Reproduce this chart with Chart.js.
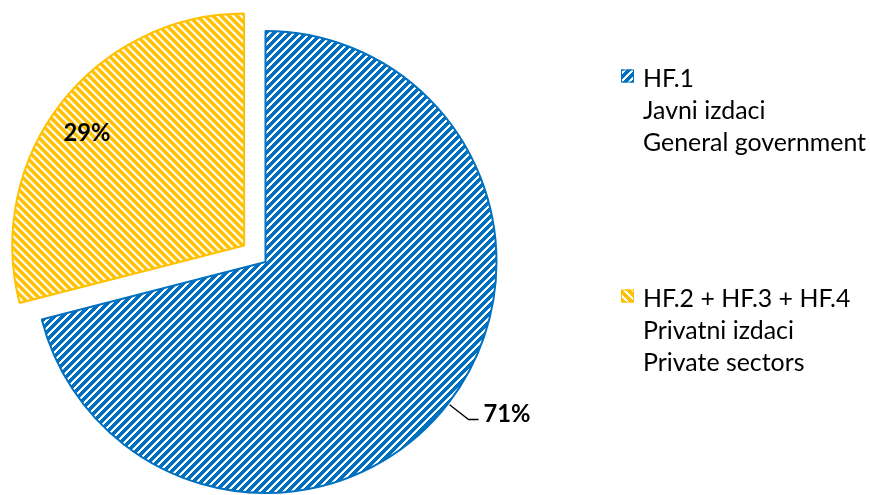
<!DOCTYPE html>
<html><head><meta charset="utf-8">
<script src="https://cdn.jsdelivr.net/npm/chart.js@4.4.1/dist/chart.umd.min.js"></script>
<style>html,body{margin:0;padding:0;background:#fff;} #wrap{width:870px;height:495px;position:relative;}</style>
</head><body><div id="wrap"><canvas id="c" width="870" height="495"></canvas></div>
<script>
// ---- data ----
const categoryCodes = ['HF.1', 'HF.2 + HF.3 + HF.4'];
const labelsHr = ['Javni izdaci', 'Privatni izdaci'];
const labelsEn = ['General government', 'Private sectors'];
const shares = [71, 29];

// ---- styles ----
const sliceColors = ['#0070C0', '#FFC000'];
const explodeOffsets = [0, 108];
const hatchDirs = ['/', '\\'];
const labelPlacement = ['outside', 'inside'];
const FAMILY = 'Lato, "Open Sans", sans-serif';

const canvas = document.getElementById('c');
const cctx = canvas.getContext('2d');
function hatch(color, dir, size, band) {
  const t = document.createElement('canvas'); t.width = size; t.height = size;
  const g = t.getContext('2d');
  g.fillStyle = '#fff'; g.fillRect(0, 0, size, size);
  g.fillStyle = color;
  for (let y = 0; y < size; y++) for (let x = 0; x < size; x++) {
    const k = dir === '/' ? (x + y) : (x - y + size * 4);
    if (k % size < band) g.fillRect(x, y, 1, 1);
  }
  return cctx.createPattern(t, 'repeat');
}
const slicePatterns = sliceColors.map((c, i) => hatch(c, hatchDirs[i], 8, 5));
const legendPatterns = sliceColors.map((c, i) => hatch(c, hatchDirs[i], 8, 5));

// ---- text metrics ----
const mctx = document.createElement('canvas').getContext('2d');
function textW(str, size, weight) {
  mctx.font = (weight ? weight + ' ' : '') + size + 'px ' + FAMILY;
  return mctx.measureText(str).width;
}
const legendSize = +(26.67 * 223 / textW('General government', 26.67)).toFixed(2);
const labelSize = +(26.67 * 47 / textW('71%', 26.67, 'bold')).toFixed(2);

// ---- layout ----
const W = 870, H = 495;
const CX = 265.5, CY = 262, RADIUS = 231;
const BOX = 13, BOX_LEFT = 621, TEXT_LEFT = 643;
const LINE_H = 32, FIRST_MID = 79, ITEM_GAP = 220, BOX_RAISE = 3;
const legendLines = categoryCodes.map((c, i) => [c, labelsHr[i], labelsEn[i]]);

const legendPlugin = {
  id: 'multiLineLegend',
  afterDraw(chart) {
    const ctx = chart.ctx;
    ctx.save();
    ctx.font = legendSize + 'px ' + FAMILY;
    ctx.textAlign = 'left';
    ctx.textBaseline = 'middle';
    legendLines.forEach((lines, i) => {
      const y0 = FIRST_MID + i * ITEM_GAP;
      const by = y0 - BOX_RAISE - BOX / 2;
      ctx.fillStyle = legendPatterns[i];
      ctx.fillRect(BOX_LEFT, by, BOX, BOX);
      ctx.strokeStyle = sliceColors[i];
      ctx.lineWidth = 1;
      ctx.strokeRect(BOX_LEFT + 0.5, by + 0.5, BOX - 1, BOX - 1);
      ctx.fillStyle = '#000';
      lines.forEach((ln, k) => ctx.fillText(ln, TEXT_LEFT, y0 + k * LINE_H));
    });
    ctx.restore();
  }
};

const labelPlugin = {
  id: 'sliceLabels',
  afterDatasetsDraw(chart) {
    const meta = chart.getDatasetMeta(0);
    const ctx = chart.ctx;
    const total = shares.reduce((a, b) => a + b, 0);
    ctx.save();
    ctx.font = 'bold ' + labelSize + 'px ' + FAMILY;
    ctx.fillStyle = '#000';
    ctx.strokeStyle = '#000';
    meta.data.forEach((arc, i) => {
      const p = arc.getProps(['x', 'y', 'startAngle', 'endAngle', 'outerRadius'], true);
      const mid = (p.startAngle + p.endAngle) / 2;
      const shift = (arc.options.offset || 0) / 4;
      const txt = Math.round(shares[i] / total * 100) + '%';
      if (labelPlacement[i] === 'inside') {
        const sx = p.x + Math.cos(mid) * shift, sy = p.y + Math.sin(mid) * shift;
        const a = mid - 0.04, d = 0.836 * p.outerRadius;
        ctx.textAlign = 'center'; ctx.textBaseline = 'middle';
        ctx.fillText(txt, sx + Math.cos(a) * d, sy + Math.sin(a) * d);
      } else {
        const cs = Math.cos(mid), sn = Math.sin(mid);
        const r0 = shift + p.outerRadius + 2, r1 = shift + p.outerRadius + 26;
        const x1 = p.x + cs * r1, y1 = p.y + sn * r1;
        ctx.lineWidth = 1.3;
        ctx.beginPath();
        ctx.moveTo(p.x + cs * r0, p.y + sn * r0);
        ctx.lineTo(x1, y1);
        ctx.lineTo(x1 + 10, y1);
        ctx.stroke();
        ctx.textAlign = 'left'; ctx.textBaseline = 'alphabetic';
        ctx.fillText(txt, x1 + 15, y1 + 2);
      }
    });
    ctx.restore();
  }
};

new Chart(canvas, {
  type: 'pie',
  data: {
    labels: categoryCodes,
    datasets: [{
      data: shares,
      backgroundColor: slicePatterns,
      borderColor: sliceColors,
      borderWidth: 2,
      offset: explodeOffsets,
      hoverOffset: 0,
      radius: RADIUS
    }]
  },
  options: {
    responsive: false,
    devicePixelRatio: 1,
    animation: false,
    events: [],
    layout: { padding: { left: 0, right: W - 2 * CX, top: 2 * CY - H, bottom: 0 } },
    plugins: {
      tooltip: { enabled: false },
      legend: { display: false }
    }
  },
  plugins: [labelPlugin, legendPlugin]
});
</script>
</body></html>
